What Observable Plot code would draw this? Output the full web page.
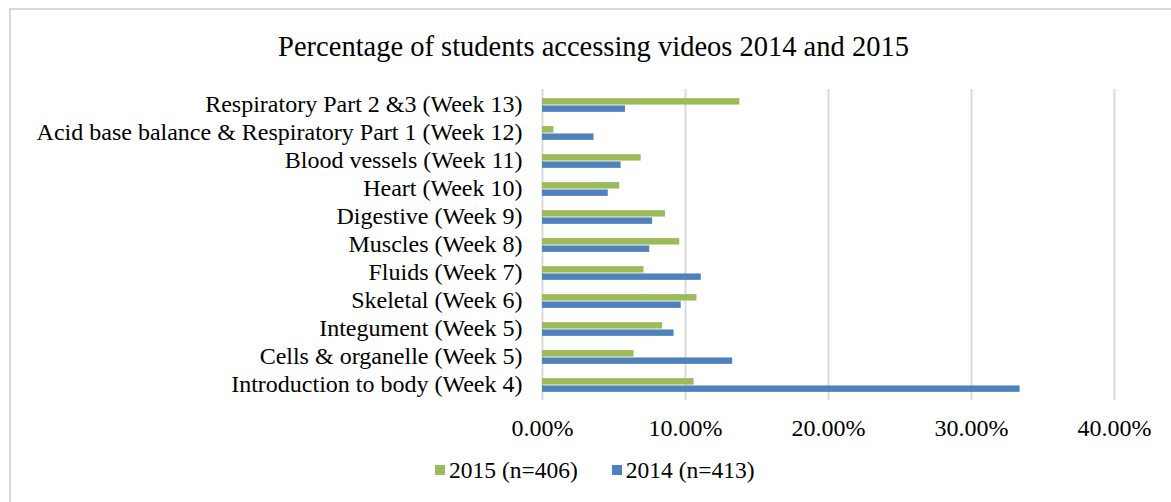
<!DOCTYPE html>
<html>
<head>
<meta charset="utf-8">
<script src="https://cdn.jsdelivr.net/npm/d3@7"></script>
<script src="https://cdn.jsdelivr.net/npm/@observablehq/plot@0.6"></script>
<style>
  html, body { margin: 0; padding: 0; background: #fff; }
  body { width: 1171px; height: 502px; overflow: hidden; position: relative;
         font-family: "Liberation Serif", "Times New Roman", serif; color: #000; }
  #frame { position: absolute; left: 9px; top: 8px; width: 1200px; height: 520px;
           border: 2px solid #d9d9d9; box-sizing: border-box; pointer-events: none; }
  #title { height: 72px; box-sizing: border-box; padding-top: 31px; text-align: center;
           font-size: 28.5px; line-height: 32px; padding-left: 16px; white-space: nowrap; }
  #legend { display: flex; align-items: center; height: 44px; padding-left: 435px;
            font-size: 23.5px; line-height: 26px; }
  .sw { width: 10px; height: 10px; margin-right: 4px; display: inline-block; }
  .item { display: flex; align-items: center; margin-right: 34px; white-space: nowrap; }
</style>
</head>
<body>
<div id="frame"></div>
<div id="title">Percentage of students accessing videos 2014 and 2015</div>
<div id="chart"></div>
<div id="legend"></div>
<script>
const categories = [
  "Respiratory Part 2 &3 (Week 13)",
  "Acid base balance & Respiratory Part 1 (Week 12)",
  "Blood vessels (Week 11)",
  "Heart (Week 10)",
  "Digestive (Week 9)",
  "Muscles (Week 8)",
  "Fluids (Week 7)",
  "Skeletal (Week 6)",
  "Integument (Week 5)",
  "Cells & organelle (Week 5)",
  "Introduction to body (Week 4)"
];
const values2015 = [13.8, 0.8, 6.9, 5.4, 8.6, 9.6, 7.1, 10.8, 8.4, 6.4, 10.6];
const values2014 = [5.8, 3.6, 5.5, 4.6, 7.7, 7.5, 11.1, 9.7, 9.2, 13.3, 33.4];
const seriesNames = ["2015 (n=406)", "2014 (n=413)"];
const seriesColors = ["#9BBB59", "#4F81BD"];
const xTicks = [0, 10, 20, 30, 40];

const d2015 = categories.map((c, i) => ({category: c, value: values2015[i]}));
const d2014 = categories.map((c, i) => ({category: c, value: values2014[i]}));

const height = 376, marginTop = 17, marginBottom = 48;
const bw = (height - marginTop - marginBottom) / categories.length;

const chart = Plot.plot({
  width: 1171,
  height,
  marginLeft: 542,
  marginRight: 57,
  marginTop,
  marginBottom,
  style: {fontFamily: '"Liberation Serif", "Times New Roman", serif', fontSize: "24px", color: "#000", background: "transparent", overflow: "visible"},
  x: {domain: [0, 40], label: null},
  y: {domain: categories, padding: 0, label: null},
  marks: [
    Plot.gridX(xTicks, {stroke: "#d9d9d9", strokeOpacity: 1, strokeWidth: 2}),
    Plot.barX(d2015, {x: "value", y: "category", fill: seriesColors[0], insetTop: bw / 2 - 7, insetBottom: bw / 2 + 0.3}),
    Plot.barX(d2014, {x: "value", y: "category", fill: seriesColors[1], insetTop: bw / 2 + 0.3, insetBottom: bw / 2 - 7}),
    Plot.axisY({tickSize: 0, tickPadding: 20, label: null, fill: "#000", dy: -1}),
    Plot.axisX({ticks: xTicks, tickSize: 0, tickPadding: 18, label: null, fill: "#000", tickFormat: d => d.toFixed(2) + "%"})
  ]
});
document.getElementById("chart").appendChild(chart);

const legend = document.getElementById("legend");
seriesNames.forEach((name, i) => {
  const item = document.createElement("div");
  item.className = "item";
  const sw = document.createElement("span");
  sw.className = "sw";
  sw.style.background = seriesColors[i];
  item.appendChild(sw);
  item.appendChild(document.createTextNode(name));
  legend.appendChild(item);
});
</script>
</body>
</html>
